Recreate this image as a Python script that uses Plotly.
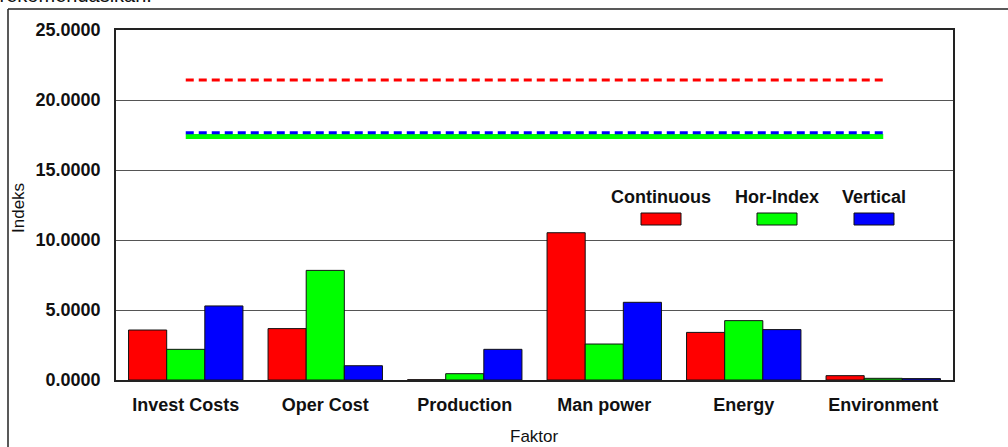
import plotly.graph_objects as go

categories = ["Invest Costs", "Oper Cost", "Production", "Man power", "Energy", "Environment"]
continuous = [3.57, 3.67, 0.02, 10.52, 3.40, 0.31]
hor_index = [2.19, 7.83, 0.45, 2.57, 4.24, 0.12]
vertical = [5.29, 1.02, 2.19, 5.55, 3.60, 0.10]
continuous_ref = [21.43] * 6
hor_index_ref = [17.40] * 6
vertical_ref = [17.66] * 6
y_ticks = [0, 5, 10, 15, 20, 25]
y_ticktext = ["%.4f" % v for v in y_ticks]
series_names = ["Continuous", "Hor-Index", "Vertical"]
series_colors = ["#ff0000", "#00ff00", "#0000ff"]

L, R, T, B = 116, 953, 30, 380
W, H = 1008, 447
FONT = "Liberation Sans, Arial"

def px(x):
    return (x - L) / (R - L)

def py(y):
    return (B - y) / (B - T)

fig = go.Figure()
for name, vals, col in zip(series_names, [continuous, hor_index, vertical], series_colors):
    fig.add_trace(go.Bar(x=categories, y=vals, name=name, marker_color=col,
                         marker_line=dict(color="#111", width=1), showlegend=False))

fig.add_trace(go.Scatter(x=categories, y=hor_index_ref, mode="lines",
                         line=dict(color="#00ff00", width=5), showlegend=False))
fig.add_trace(go.Scatter(x=categories, y=vertical_ref, mode="lines",
                         line=dict(color="#0000ff", width=3, dash="8px,5px"), showlegend=False))
fig.add_trace(go.Scatter(x=categories, y=continuous_ref, mode="lines",
                         line=dict(color="#ff0000", width=3, dash="8px,5px"), showlegend=False))

shapes = []
annotations = []
# legend (text above swatches)
leg_centers = [661, 777, 874]
for name, col, cx in zip(series_names, series_colors, leg_centers):
    annotations.append(dict(x=px(cx), y=py(197), xref="paper", yref="paper", text="<b>%s</b>" % name,
                            showarrow=False, font=dict(family=FONT, size=18, color="#111"),
                            xanchor="center", yanchor="middle"))
    shapes.append(dict(type="rect", xref="paper", yref="paper", x0=px(cx - 20), x1=px(cx + 20),
                       y0=py(225), y1=py(213), fillcolor=col, line=dict(color="#111", width=1)))

# outer frame (top and left lines)
shapes.append(dict(type="line", xref="paper", yref="paper", x0=px(8), x1=px(1010), y0=py(9), y1=py(9),
                   line=dict(color="#222", width=1.5)))
shapes.append(dict(type="line", xref="paper", yref="paper", x0=px(8), x1=px(8), y0=py(9), y1=py(450),
                   line=dict(color="#222", width=1.5)))

# clipped page text at very top
annotations.append(dict(x=px(154), y=py(8), xref="paper", yref="paper", text="direkomendasikan.",
                        showarrow=False, font=dict(family=FONT, size=20, color="#111"),
                        xanchor="right", yanchor="bottom"))
# axis titles
annotations.append(dict(x=px(534), y=py(436), xref="paper", yref="paper", text="Faktor",
                        showarrow=False, font=dict(family=FONT, size=17, color="#111"),
                        xanchor="center", yanchor="middle"))
annotations.append(dict(x=px(18), y=py(208), xref="paper", yref="paper", text="Indeks", textangle=-90,
                        showarrow=False, font=dict(family=FONT, size=17, color="#111"),
                        xanchor="center", yanchor="middle"))

fig.update_layout(
    width=W, height=H,
    margin=dict(l=L, r=W - R, t=T, b=H - B, autoexpand=False),
    paper_bgcolor="white", plot_bgcolor="white",
    barmode="group", bargap=0.18, bargroupgap=0,
    font=dict(family=FONT, color="#111"),
    shapes=shapes, annotations=annotations,
    showlegend=False,
)
fig.update_xaxes(showline=True, linecolor="#222", linewidth=1.5, mirror=True,
                 tickfont=dict(size=18, family=FONT, color="#111", weight="bold"),
                 ticks="outside", ticklen=8, tickcolor="rgba(0,0,0,0)", showgrid=False)
fig.update_yaxes(range=[0, 25], tickvals=y_ticks, ticktext=y_ticktext,
                 showline=True, linecolor="#222", linewidth=1.5, mirror=True,
                 showgrid=True, gridcolor="#555", gridwidth=1, zeroline=False,
                 tickfont=dict(size=18, family=FONT, color="#111", weight="bold"),
                 ticks="outside", ticklen=10, tickcolor="rgba(0,0,0,0)")

fig.write_html("out.html", config={"displayModeBar": False},
               post_script="document.body.style.margin='0';document.body.style.overflow='hidden';")
